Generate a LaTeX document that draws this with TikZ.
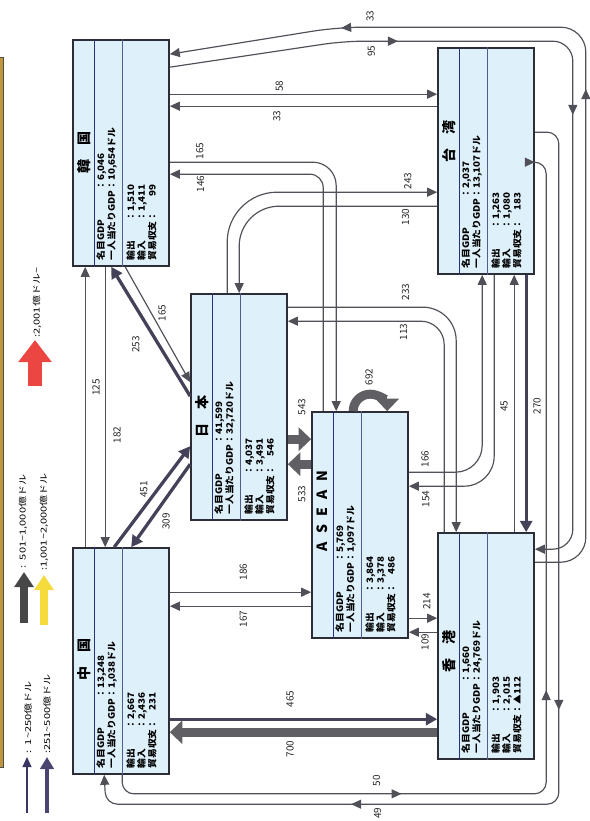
\documentclass[tikz,border=0pt]{standalone}
\usepackage{fontspec}
\setmainfont{Noto Sans CJK JP}
\usetikzlibrary{arrows.meta,calc,decorations.markings}

\definecolor{boxfill}{RGB}{222,240,250}
\definecolor{boxline}{RGB}{45,45,55}
\definecolor{divline}{RGB}{40,50,120}
\definecolor{arrgray}{RGB}{80,80,88}
\definecolor{midgray}{RGB}{68,66,88}
\definecolor{biggray}{RGB}{95,95,100}
\definecolor{legyel}{RGB}{245,220,60}
\definecolor{legred}{RGB}{235,70,65}
\definecolor{legedge}{RGB}{190,150,60}

\newcommand{\midtip}{\arrow[arrgray]{Triangle[length=0.3cm,width=0.27cm]}}

\begin{document}
\begin{tikzpicture}[
    x=0.03cm, y=-0.03cm,
    box/.style={
        rectangle,
        draw=boxline,
        fill=boxfill,
        line width=1.4pt,
        minimum width=2.88cm,
        minimum height=6.78cm,
        inner sep=0pt
    },
    title/.style={rotate=90, font=\bfseries\fontsize{12}{12}\selectfont, inner sep=0pt},
    info/.style={rotate=90, xscale=1.1, anchor=north west, inner sep=0pt,
        font=\bfseries\fontsize{7.6}{9}\selectfont},
    lbl/.style={rotate=90, inner sep=1pt, text=black!85,
        font=\fontsize{8.5}{8.5}\selectfont},
    legtxt/.style={rotate=90, xscale=1.35, anchor=west, inner sep=0pt,
        font=\fontsize{7}{7}\selectfont},
    thinarr/.style={draw=arrgray, line width=1pt, -{Triangle[length=0.3cm,width=0.27cm]}},
    midarr/.style={draw=midgray, line width=2.8pt, -{Triangle[length=0.34cm,width=0.36cm]}},
    bigarr/.style={draw=biggray, line width=0.27cm, -{Triangle[length=0.38cm,width=0.7cm]}},
    alongtips/.style={postaction={decorate}, decoration={markings, #1}}
]
\useasboundingbox (0,0) rectangle (589,821);

% legend
\fill[legedge] (0,57) rectangle (3,767);
\draw[black!70, line width=0.6pt] (-2,57) -- (3,57) -- (3,767) -- (-2,767);
\draw[draw={rgb,255:red,58;green,52;blue,96}, line width=1pt,
    -{Triangle[length=0.3cm,width=0.27cm]}] (27,813) -- (27,757);
\draw[draw={rgb,255:red,74;green,69;blue,112}, line width=3pt,
    -{Triangle[length=0.36cm,width=0.4cm]}] (47,813) -- (47,757);
\draw[draw=black!72, line width=0.24cm,
    -{Triangle[length=0.45cm,width=0.56cm]}] (24,623) -- (24,572);
\draw[draw=legyel, line width=0.24cm,
    -{Triangle[length=0.45cm,width=0.56cm]}] (44,625) -- (44,575);
\draw[draw=legred, line width=0.42cm,
    -{Triangle[length=0.66cm,width=0.96cm]}] (35,386) -- (35,340);
\node[legtxt] (leg-a) at (28,754) {:\enspace 1\textasciitilde 250億ドル};
\node[legtxt] (leg-b) at (47,754) {:251\textasciitilde 500億ドル};
\node[legtxt] (leg-c) at (23,569) {:\enspace 501\textasciitilde 1,000億ドル};
\node[legtxt] (leg-d) at (44,571) {:1,001\textasciitilde 2,000億ドル};
\node[legtxt] (leg-e) at (37,338) {:2,001億ドル\textasciitilde};

% countries
\node[box] (kor) at (121,153) {};
\node[box] (jpn) at (239,407) {};
\node[box] (asean) at (360,525) {};
\node[box] (tw) at (486,161) {};
\node[box] (hk) at (486,646) {};
\node[box] (chn) at (121,661) {};

\foreach \b in {kor,jpn,asean,tw,hk,chn}{
    \draw[divline, line width=0.8pt] ($(\b.north west)+(22,0)$) -- ($(\b.south west)+(22,0)$);
    \draw[divline!80, line width=0.8pt] ($(\b.north west)+(50,0)$) -- ($(\b.south west)+(50,0)$);
}

\node[title] (kor-t) at ($(kor.north west)+(12,113)$) {韓\quad 国};
\node[info] (kor-g) at ($(kor.south west)+(24,-6)$)
{\begin{tabular}{@{}l@{}l@{}}名目GDP&：6,046\\一人当たりGDP&：10,654ドル\end{tabular}};
\node[info] (kor-x) at ($(kor.south west)+(54,-6)$)
{\begin{tabular}{@{}l@{}l@{}r@{}}輸出&：&1,510\\輸入&：&1,411\\貿易収支&：&99\end{tabular}};

\node[title] (jpn-t) at ($(jpn.north west)+(12,123)$) {日\quad 本};
\node[info] (jpn-g) at ($(jpn.south west)+(24,-6)$)
{\begin{tabular}{@{}l@{}l@{}}名目GDP&：41,599\\一人当たりGDP&：32,720ドル\end{tabular}};
\node[info] (jpn-x) at ($(jpn.south west)+(54,-6)$)
{\begin{tabular}{@{}l@{}l@{}r@{}}輸出&：&4,037\\輸入&：&3,491\\貿易収支&：&546\end{tabular}};

\node[title] (asean-t) at ($(asean.north west)+(11,100)$)
{A\hspace{0.6em}S\hspace{0.6em}E\hspace{0.6em}A\hspace{0.6em}N};
\node[info] (asean-g) at ($(asean.south west)+(24,-6)$)
{\begin{tabular}{@{}l@{}l@{}}名目GDP&：5,769\\一人当たりGDP&：1,097ドル\end{tabular}};
\node[info] (asean-x) at ($(asean.south west)+(54,-6)$)
{\begin{tabular}{@{}l@{}l@{}r@{}}輸出&：&3,864\\輸入&：&3,378\\貿易収支&：&486\end{tabular}};

\node[title] (tw-t) at ($(tw.north west)+(12,94)$) {台\quad 湾};
\node[info] (tw-g) at ($(tw.south west)+(24,-6)$)
{\begin{tabular}{@{}l@{}l@{}}名目GDP&：2,037\\一人当たりGDP&：13,107ドル\end{tabular}};
\node[info] (tw-x) at ($(tw.south west)+(54,-6)$)
{\begin{tabular}{@{}l@{}l@{}r@{}}輸出&：&1,263\\輸入&：&1,080\\貿易収支&：&183\end{tabular}};

\node[title] (hk-t) at ($(hk.north west)+(12,119)$) {香\quad 港};
\node[info] (hk-g) at ($(hk.south west)+(24,-6)$)
{\begin{tabular}{@{}l@{}l@{}}名目GDP&：1,660\\一人当たりGDP&：24,769ドル\end{tabular}};
\node[info] (hk-x) at ($(hk.south west)+(54,-6)$)
{\begin{tabular}{@{}l@{}l@{}r@{}}輸出&：&1,903\\輸入&：&2,015\\貿易収支&：&▲112\end{tabular}};

\node[title] (chn-t) at ($(chn.north west)+(12,112)$) {中\quad 国};
\node[info] (chn-g) at ($(chn.south west)+(24,-6)$)
{\begin{tabular}{@{}l@{}l@{}}名目GDP&：13,248\\一人当たりGDP&：1,038ドル\end{tabular}};
\node[info] (chn-x) at ($(chn.south west)+(54,-6)$)
{\begin{tabular}{@{}l@{}l@{}r@{}}輸出&：&2,667\\輸入&：&2,436\\貿易収支&：&231\end{tabular}};

% Korea - Taiwan
\draw[thinarr] ($(kor.north east)+(0,55)$) -- node[yshift=0.24cm, lbl, pos=0.41] (l-kt) {58} ($(tw.north west)+(0,47)$);
\draw[thinarr] ($(tw.north west)+(0,59)$) -- node[yshift=-0.3cm, lbl, pos=0.6] (l-tk) {33} ($(kor.north east)+(0,67)$);

% Korea - ASEAN
\draw[thinarr, rounded corners=0.7cm] ($(kor.north east)+(0,123)$) -| node[yshift=0.33cm, lbl, pos=0.09] (l-ka) {165} ($(asean.north west)+(25,0)$);
\draw[thinarr, rounded corners=0.4cm] ($(asean.north west)+(12,0)$) |- node[yshift=-0.3cm, lbl, pos=0.9] (l-ak) {146} ($(kor.north east)+(0,135)$);

% Japan - Taiwan
\draw[thinarr, rounded corners=1.5cm] ($(jpn.north west)+(37,0)$) |- node[yshift=0.33cm, lbl, pos=0.93] (l-jt) {243} ($(tw.north west)+(0,145)$);
\draw[thinarr, rounded corners=1.2cm] ($(tw.north west)+(0,159)$) -| node[yshift=-0.33cm, lbl, pos=0.08] (l-tj) {130} ($(jpn.north west)+(49,0)$);

% Japan - Hong Kong
\draw[thinarr, rounded corners=1cm] ($(jpn.north east)+(0,14)$) -| node[yshift=0.45cm, lbl, pos=0.35] (l-jh) {233} ($(hk.north west)+(19,0)$);
\draw[thinarr, rounded corners=0.7cm] ($(hk.north west)+(7,0)$) |- node[yshift=-0.33cm, lbl, pos=0.63] (l-hj) {113} ($(jpn.north east)+(0,28)$);

% ASEAN - Taiwan
\draw[thinarr, rounded corners=0.8cm] ($(asean.north east)+(0,61)$) -| node[yshift=0.39cm, lbl, pos=0.11] (l-at) {166} ($(tw.south west)+(45,0)$);
\draw[thinarr, rounded corners=0.9cm] ($(tw.south west)+(57,0)$) |- node[yshift=-0.39cm, lbl, pos=0.9] (l-ta) {154} ($(asean.north east)+(0,75)$);

% Taiwan - Hong Kong
\draw[midarr] ($(tw.south west)+(89,0)$) -- node[xshift=0.33cm, lbl, pos=0.51] (l-th) {270} ($(hk.north west)+(89,0)$);
\draw[thinarr] ($(hk.north west)+(77,0)$) -- node[xshift=-0.3cm, lbl, pos=0.49] (l-ht) {45} ($(tw.south west)+(77,0)$);

% Japan - ASEAN
\draw[bigarr] ($(jpn.north east)+(0,146)$) -- node[yshift=0.96cm, lbl, pos=0.6] (l-ja) {543} ($(asean.north west)+(0,28)$);
\draw[bigarr] ($(asean.north west)+(0,53)$) -- node[yshift=-0.9cm, lbl, pos=0.4] (l-aj) {533} ($(jpn.north east)+(0,171)$);
\draw[bigarr] ($(asean.north west)+(42,0)$) node[xshift=0.48cm, yshift=1.02cm, lbl] (l-aa) {692}
    arc[start angle=180, end angle=0, radius=0.51cm];

% China - ASEAN
\draw[thinarr] ($(chn.north east)+(0,45)$) -- node[yshift=0.6cm, lbl, pos=0.52] (l-ca) {186} ($(asean.north west)+(0,181)$);
\draw[thinarr] ($(asean.north west)+(0,195)$) -- node[yshift=-0.39cm, lbl, pos=0.48] (l-ac) {167} ($(chn.north east)+(0,59)$);

% ASEAN - Hong Kong
\draw[thinarr] ($(asean.north east)+(0,207)$) -- node[yshift=0.5cm, lbl, pos=0.63] (l-ah) {214} ($(hk.north west)+(0,86)$);
\draw[thinarr] ($(hk.north west)+(0,100)$) -- node[yshift=-0.3cm, lbl, pos=0.43] (l-ha) {109} ($(asean.north east)+(0,221)$);

% China - Hong Kong
\draw[midarr] ($(chn.north east)+(0,172)$) -- node[yshift=0.6cm, lbl, pos=0.45] (l-ch) {465} ($(hk.north west)+(0,187)$);
\draw[bigarr] ($(hk.north west)+(0,200)$) -- node[yshift=-0.51cm, lbl, pos=0.55] (l-hc) {700} ($(chn.north east)+(0,185)$);

% China - Japan
\draw[midarr] ($(chn.north west)+(42,0)$) -- node[xshift=-0.41cm, lbl, pos=0.57] (l-cj) {451} ($(jpn.north west)+(0,153)$);
\draw[midarr] ($(jpn.north west)+(0,171)$) -- node[xshift=0.5cm, lbl, pos=0.69] (l-jc) {309} ($(chn.north west)+(59,0)$);

% Korea - Japan
\draw[midarr] ($(jpn.north west)+(0,103)$) -- node[xshift=-0.68cm, lbl, pos=0.4] (l-jk) {253} ($(kor.south west)+(39,0)$);
\draw[thinarr] ($(kor.south west)+(53,0)$) -- node[xshift=0.33cm, lbl, pos=0.4] (l-kj) {165} ($(jpn.north west)+(0,89)$);

% Korea - China
\draw[thinarr] ($(chn.north west)+(13,0)$) -- node[xshift=0.33cm, lbl, pos=0.57] (l-ck) {125} ($(kor.south west)+(13,0)$);
\draw[thinarr] ($(kor.south west)+(33,0)$) -- node[xshift=0.36cm, lbl, pos=0.6] (l-kc) {182} ($(chn.north west)+(33,0)$);

% Korea - Hong Kong
\draw[thinarr, rounded corners=0.6cm,
    alongtips={mark=at position 6.9cm with {\midtip}, mark=at position 14.1cm with {\midtip}}]
    ($(kor.north east)+(0,28)$) -- ++(174,-26) -- node[yshift=-0.3cm, lbl, pos=0.12] (l-kh) {95} ++(229,0)
    |- ($(hk.north east)+(0,17)$);
\draw[thinarr, rounded corners=0.75cm,
    alongtips={mark=at position 15.4cm with {\midtip}, mark=at position -5.2cm with {\midtip}}]
    ($(hk.north east)+(0,30)$) -- ++(51,0) -- ++(0,-535)
    -- node[yshift=0.33cm, lbl, pos=0.87] (l-hk) {33} ++(-248,0) -- ($(kor.north east)+(0,15)$);

% China - Taiwan
\draw[thinarr, rounded corners=0.35cm,
    alongtips={mark=at position 8.8cm with {\midtip}, mark=at position 16.1cm with {\midtip}}]
    ($(chn.south west)+(50,0)$) -- ++(0,19) -- node[yshift=0.39cm, lbl, pos=0.6] (l-ct) {50} ++(424,0)
    |- ($(tw.north east)+(0,115)$);
\draw[thinarr, rounded corners=0.35cm,
    alongtips={mark=at position 17.9cm with {\midtip}, mark=at position -8.1cm with {\midtip}}]
    ($(tw.north east)+(0,85)$) -- ++(24,0) -- ++(0,672)
    -- node[yshift=-0.27cm, lbl, pos=0.4] (l-tc) {49} ++(-453,0) -- ($(chn.south west)+(32,0)$);

\end{tikzpicture}
\end{document}
